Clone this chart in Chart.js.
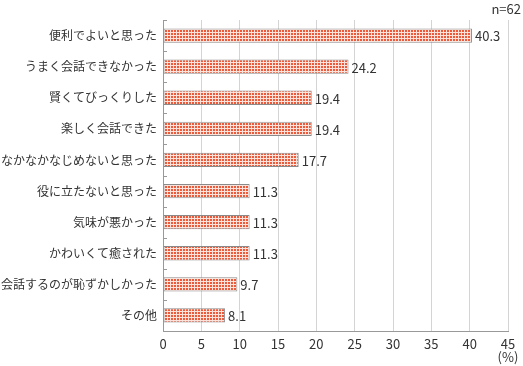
<!DOCTYPE html>
<html>
<head>
<meta charset="utf-8">
<script src="https://cdn.jsdelivr.net/npm/chart.js@4"></script>
<style>
  html, body { margin: 0; padding: 0; background: #fff; }
  #wrap { width: 523px; height: 366px; }
</style>
</head>
<body>
<div id="wrap"><canvas id="chart" width="523" height="366"></canvas></div>
<script>
// data
const categories = [
  '便利でよいと思った',
  'うまく会話できなかった',
  '賢くてびっくりした',
  '楽しく会話できた',
  'なかなかなじめないと思った',
  '役に立たないと思った',
  '気味が悪かった',
  'かわいくて癒された',
  '会話するのが恥ずかしかった',
  'その他'
];
const values = [40.3, 24.2, 19.4, 19.4, 17.7, 11.3, 11.3, 11.3, 9.7, 8.1];
const xTicks = [0, 5, 10, 15, 20, 25, 30, 35, 40, 45];
const sampleNote = 'n=62';
const unitNote = '(%)';

const FONT = '"Noto Sans CJK JP", "Noto Sans", sans-serif';
const TEXT = '#333';

// small checkered fill like the original bars
function makePattern() {
  const c = document.createElement('canvas');
  c.width = 3;
  c.height = 3;
  const g = c.getContext('2d');
  g.fillStyle = '#fbe3dc';
  g.fillRect(0, 0, 3, 3);
  g.fillStyle = '#ec5a3c';
  g.fillRect(0, 0, 2, 2);
  return document.getElementById('chart').getContext('2d').createPattern(c, 'repeat');
}

// value labels, y-axis inner ticks and the notes
const extras = {
  id: 'extras',
  afterDatasetsDraw(ch) {
    const ctx = ch.ctx;
    const meta = ch.getDatasetMeta(0);
    const y = ch.scales.y;
    const area = ch.chartArea;
    ctx.save();

    // short ticks between categories, pointing into the plot
    ctx.strokeStyle = '#999';
    ctx.lineWidth = 1;
    for (let i = 0; i <= categories.length; i++) {
      const py = Math.round(y.getPixelForValue(i - 0.5)) + 0.5;
      ctx.beginPath();
      ctx.moveTo(area.left, py);
      ctx.lineTo(area.left + 4, py);
      ctx.stroke();
    }

    ctx.font = '13px ' + FONT;
    ctx.fillStyle = TEXT;
    ctx.textBaseline = 'middle';
    ctx.textAlign = 'left';
    meta.data.forEach((bar, i) => {
      ctx.fillText(values[i].toFixed(1), bar.x + 3, bar.y + 1);
    });

    ctx.textAlign = 'right';
    ctx.fillText(sampleNote, 521, 9);
    ctx.textAlign = 'center';
    ctx.fillText(unitNote, ch.scales.x.getPixelForValue(45), 357);
    ctx.restore();
  }
};

new Chart(document.getElementById('chart'), {
  type: 'bar',
  data: {
    labels: categories,
    datasets: [{
      data: values,
      backgroundColor: makePattern(),
      borderColor: '#8a8a8a',
      borderWidth: 1,
      borderSkipped: false,
      barPercentage: 0.46,
      categoryPercentage: 1
    }]
  },
  options: {
    indexAxis: 'y',
    responsive: false,
    animation: false,
    layout: { padding: { top: 20, right: 15, left: 0, bottom: 0 } },
    plugins: {
      legend: { display: false },
      tooltip: { enabled: false }
    },
    scales: {
      x: {
        min: 0,
        max: 45,
        afterBuildTicks: s => { s.ticks = xTicks.map(v => ({ value: v })); },
        afterFit: s => { s.height = 35; },
        border: { color: '#999', width: 1 },
        grid: { color: '#d4d4d4', lineWidth: 1, drawTicks: false },
        ticks: {
          padding: 5,
          color: TEXT,
          font: { family: FONT, size: 13 }
        }
      },
      y: {
        afterFit: s => { s.width = 163; },
        border: { color: '#999', width: 1 },
        grid: { display: false, drawTicks: false },
        ticks: {
          padding: 6,
          color: TEXT,
          font: { family: FONT, size: 12 }
        }
      }
    }
  },
  plugins: [extras]
});
</script>
</body>
</html>
